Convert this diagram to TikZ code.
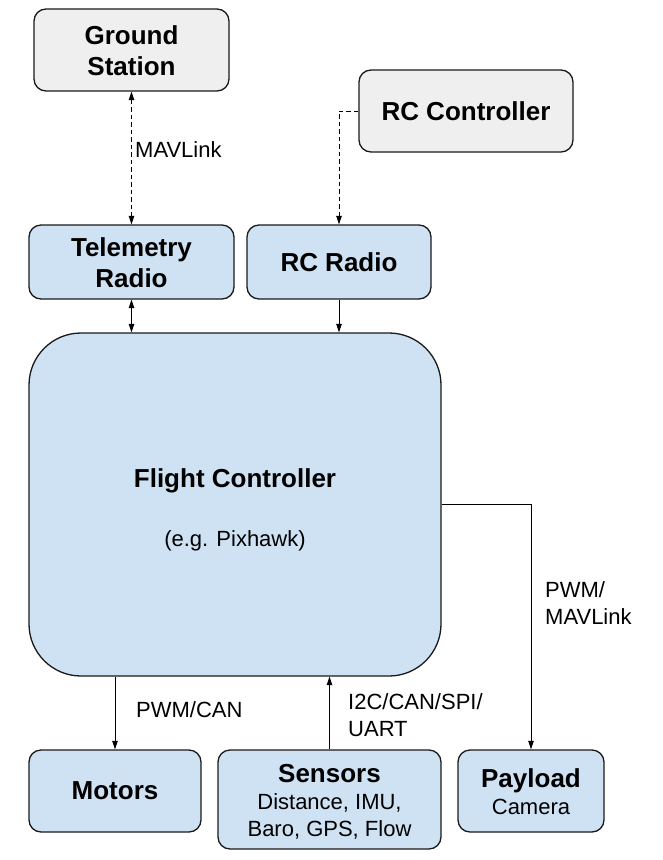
\documentclass[tikz,border=0pt]{standalone}
\usepackage{fontspec}
\setmainfont{Liberation Sans}
\usetikzlibrary{arrows.meta}
\definecolor{bluefill}{HTML}{CFE2F3}
\definecolor{grayfill}{HTML}{EFEFEF}
\definecolor{edge}{HTML}{1A1A1A}
\tikzset{
  box/.style={draw=edge, line width=1.3pt, rounded corners=12pt, inner sep=0pt, align=center,
    font=\fontsize{26}{31}\selectfont\bfseries},
  bluebox/.style={box, fill=bluefill},
  graybox/.style={box, fill=grayfill},
  subbox/.style={bluebox, font=\fontsize{22}{27}\selectfont},
  conn/.style={line width=1pt, -{Triangle[length=8.5pt,width=5.5pt]}},
  bconn/.style={line width=1pt, {Triangle[length=8.5pt,width=5.5pt]}-{Triangle[length=8.5pt,width=5.5pt]}},
  dashline/.style={dash pattern=on 4.5pt off 3pt},
  lbl/.style={inner sep=0pt, align=left, font=\fontsize{22}{27}\selectfont}
}
\begin{document}
\begin{tikzpicture}[x=1pt,y=-1pt]
\useasboundingbox (0,0) rectangle (662,860);
% boxes
\node[graybox, minimum width=195pt, minimum height=82pt] (gs) at (131.5,50) {\rule{0pt}{20.5pt}Ground\\Station};
\node[graybox, minimum width=214pt, minimum height=82pt] (rcc) at (466,111) {RC Controller};
\node[bluebox, minimum width=205pt, minimum height=74pt] (tel) at (131.5,262) {\rule{0pt}{20.5pt}Telemetry\\Radio};
\node[bluebox, minimum width=184pt, minimum height=74pt] (rcr) at (339,262) {RC Radio};
\node[subbox, rounded corners=52pt, minimum width=412pt, minimum height=343pt] (fc) at (235,504.5)
  {{\fontsize{26}{27}\selectfont\bfseries\rule{0pt}{29pt}Flight Controller}\\[32pt](e.g. Pixhawk)};
\node[bluebox, minimum width=172pt, minimum height=82pt] (mot) at (115,791) {Motors};
\node[subbox, minimum width=223pt, minimum height=99pt] (sen) at (329.5,799.5)
  {{\fontsize{26}{27}\selectfont\bfseries\rule{0pt}{23pt}Sensors}\\Distance, IMU,\\Baro, GPS, Flow};
\node[subbox, minimum width=146pt, minimum height=82pt] (pay) at (531,791)
  {{\fontsize{26}{27}\selectfont\bfseries\rule{0pt}{21pt}Payload}\\Camera};
% connectors
\draw[bconn, dashline] (gs.south) -- (tel.north);
\draw[conn, dashline] (rcc.west) -| (rcr.north);
\draw[bconn] (tel.south) -- (tel.south |- fc.north);
\draw[conn] (rcr.south) -- (rcr.south |- fc.north);
\draw[conn] (mot.north |- fc.south) -- (mot.north);
\draw[conn] (sen.north) -- (sen.north |- fc.south);
\draw[conn] (fc.east) -| (pay.north);
% labels
\node[lbl, anchor=base west] (l1) at (135,157.3) {MAVLink};
\node[lbl, anchor=base west] (l2) at (136,717.3) {PWM/CAN};
\node[lbl, anchor=west] (l3) at (348,714.7) {I2C/CAN/SPI/\\UART};
\node[lbl, anchor=west] (l4) at (545,603.4) {PWM/\\MAVLink};
\end{tikzpicture}
\end{document}
